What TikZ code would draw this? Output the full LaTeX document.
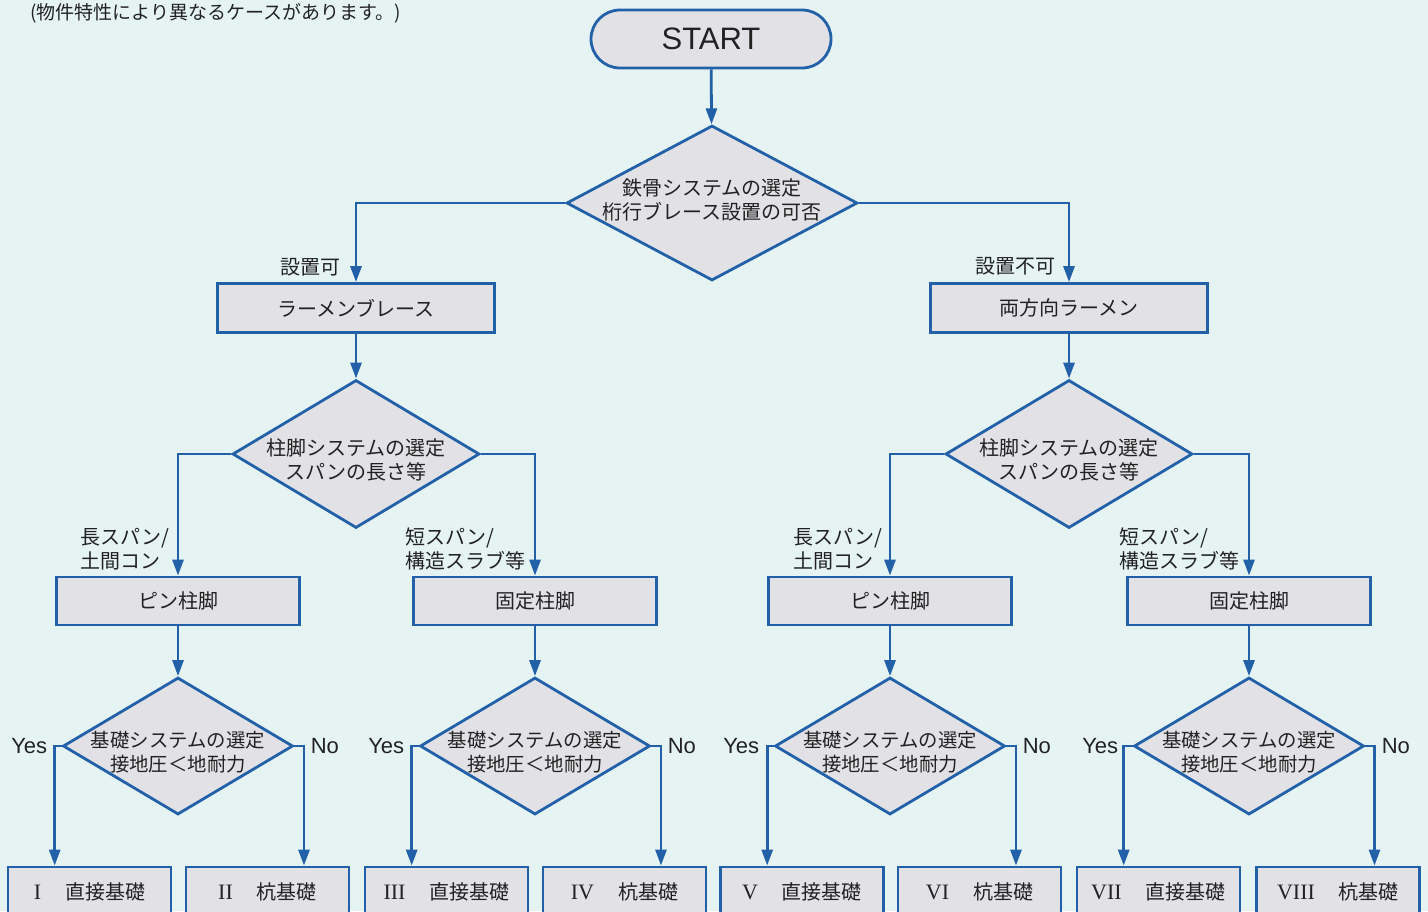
\documentclass[tikz,border=0pt]{standalone}
\usepackage{fontspec}
\setmainfont{Noto Sans CJK JP}
\newfontfamily\latinf{Liberation Sans}
\newfontfamily\romf{Liberation Serif}
\usetikzlibrary{arrows.meta,shapes.geometric,calc}
\definecolor{bgc}{HTML}{E6F3F3}
\definecolor{boxc}{HTML}{E2E2E6}
\definecolor{linec}{HTML}{2260A8}
\definecolor{txtc}{HTML}{222222}
\begin{document}
\begin{tikzpicture}[x=0.5pt,y=-0.5pt,
 every node/.style={text=txtc},
 conn/.style={draw=linec, line width=1.4pt, -{Triangle[length=8pt,width=5.5pt]}},
 boxn/.style={draw=linec, fill=boxc, line width=1.4pt, rectangle, inner sep=0pt, font=\fontsize{10}{12}\selectfont},
 dia/.style={draw=linec, fill=boxc, line width=1.4pt, diamond, inner sep=0pt},
 dtext/.style={align=center, font=\fontsize{10}{12}\selectfont, inner sep=0pt},
 lab/.style={font=\fontsize{10}{12}\selectfont, inner sep=0pt, align=left},
 yn/.style={font=\latinf\fontsize{11}{13}\selectfont, inner sep=0pt},
 bigbox/.style={boxn, minimum width=138.5pt, minimum height=24.5pt},
 midbox/.style={boxn, minimum width=121.5pt, minimum height=24pt},
 endbox/.style={boxn, minimum width=81.5pt, minimum height=25pt},
 diaA/.style={dia, minimum width=145.5pt, minimum height=77.5pt},
 diaB/.style={dia, minimum width=123.5pt, minimum height=74pt},
 diaC/.style={dia, minimum width=115pt, minimum height=68.5pt},
]
\clip (0,0) rectangle (1428,911);
\fill[bgc] (0,0) rectangle (1428,911);

\node[anchor=west, font=\fontsize{9.5}{11}\selectfont, inner sep=0pt] (note) at (30,13) {(物件特性により異なるケースがあります。)};

% top
\node[boxn, rounded corners=14.5pt, minimum width=120pt, minimum height=29pt, font=\latinf\fontsize{15.5}{18}\selectfont] (start) at (711,39) {START};
\node[diaA] (d1) at (712,203) {};
\node[dtext] (d1t) at (712,200) {鉄骨システムの選定\\桁行ブレース設置の可否};

\node[bigbox] (b1) at (356,308) {ラーメンブレース};
\node[bigbox] (b2) at (1069,308) {両方向ラーメン};

\node[lab, anchor=east] (l1) at (341,267) {設置可};
\node[lab, anchor=east] (l2) at (1056,266) {設置不可};

\draw[conn] (start) -- (d1);
\draw[conn] (d1.west) -| (b1.north);
\draw[conn] (d1.east) -| (b2.north);

% second level
\node[diaB] (d2l) at (356,454) {};
\node[dtext] (d2lt) at (356,460) {柱脚システムの選定\\スパンの長さ等};
\node[diaB] (d2r) at (1069,454) {};
\node[dtext] (d2rt) at (1069,460) {柱脚システムの選定\\スパンの長さ等};

\draw[conn] (b1) -- (d2l);
\draw[conn] (b2) -- (d2r);

\node[midbox] (p1) at (178,601) {ピン柱脚};
\node[midbox] (k1) at (535,601) {固定柱脚};
\node[midbox] (p2) at (890,601) {ピン柱脚};
\node[midbox] (k2) at (1249,601) {固定柱脚};

\node[lab, anchor=west] (s1) at (80,549) {長スパン/\\土間コン};
\node[lab, anchor=west] (s2) at (405,549) {短スパン/\\構造スラブ等};
\node[lab, anchor=west] (s3) at (793,549) {長スパン/\\土間コン};
\node[lab, anchor=west] (s4) at (1119,549) {短スパン/\\構造スラブ等};

\draw[conn] (d2l.west) -| (p1.north);
\draw[conn] (d2l.east) -| (k1.north);
\draw[conn] (d2r.west) -| (p2.north);
\draw[conn] (d2r.east) -| (k2.north);

% third level
\foreach \n/\x/\b in {a/178/p1, b/535/k1, c/890/p2, d/1249/k2}{
  \node[diaC] (d3\n) at (\x,746) {};
  \node[dtext, font=\fontsize{9.7}{11.8}\selectfont] (d3\n t) at (\x,752) {基礎システムの選定\\接地圧＜地耐力};
  \draw[conn] (\b) -- (d3\n);
  \node[yn, anchor=east] (y\n) at ($(d3\n.west)+(-14,0)$) {Yes};
  \node[yn, anchor=west] (n\n) at ($(d3\n.east)+(16,0)$) {No};
}

% bottom boxes
\tikzset{rn/.style={font=\romf\fontsize{11}{12}\selectfont}}
\node[endbox] (f1) at (89.5,892) {{\romf\fontsize{11}{12}\selectfont I}\hspace{12pt}直接基礎};
\node[endbox] (f2) at (267.5,892) {{\romf\fontsize{11}{12}\selectfont II}\hspace{12pt}杭基礎};
\node[endbox] (f3) at (446.5,892) {{\romf\fontsize{11}{12}\selectfont III}\hspace{12pt}直接基礎};
\node[endbox] (f4) at (624.5,892) {{\romf\fontsize{11}{12}\selectfont IV}\hspace{12pt}杭基礎};
\node[endbox] (f5) at (802,892) {{\romf\fontsize{11}{12}\selectfont V}\hspace{12pt}直接基礎};
\node[endbox] (f6) at (979.5,892) {{\romf\fontsize{11}{12}\selectfont VI}\hspace{12pt}杭基礎};
\node[endbox] (f7) at (1158.5,892) {{\romf\fontsize{11}{12}\selectfont VII}\hspace{12pt}直接基礎};
\node[endbox] (f8) at (1338,892) {{\romf\fontsize{11}{12}\selectfont VIII}\hspace{12pt}杭基礎};

\draw[conn] (d3a.west) -| ($(f1.north west)!0.29!(f1.north east)$);
\draw[conn] (d3a.east) -| ($(f2.north west)!0.72!(f2.north east)$);
\draw[conn] (d3b.west) -| ($(f3.north west)!0.29!(f3.north east)$);
\draw[conn] (d3b.east) -| ($(f4.north west)!0.72!(f4.north east)$);
\draw[conn] (d3c.west) -| ($(f5.north west)!0.29!(f5.north east)$);
\draw[conn] (d3c.east) -| ($(f6.north west)!0.72!(f6.north east)$);
\draw[conn] (d3d.west) -| ($(f7.north west)!0.29!(f7.north east)$);
\draw[conn] (d3d.east) -| ($(f8.north west)!0.72!(f8.north east)$);
\end{tikzpicture}
\end{document}
